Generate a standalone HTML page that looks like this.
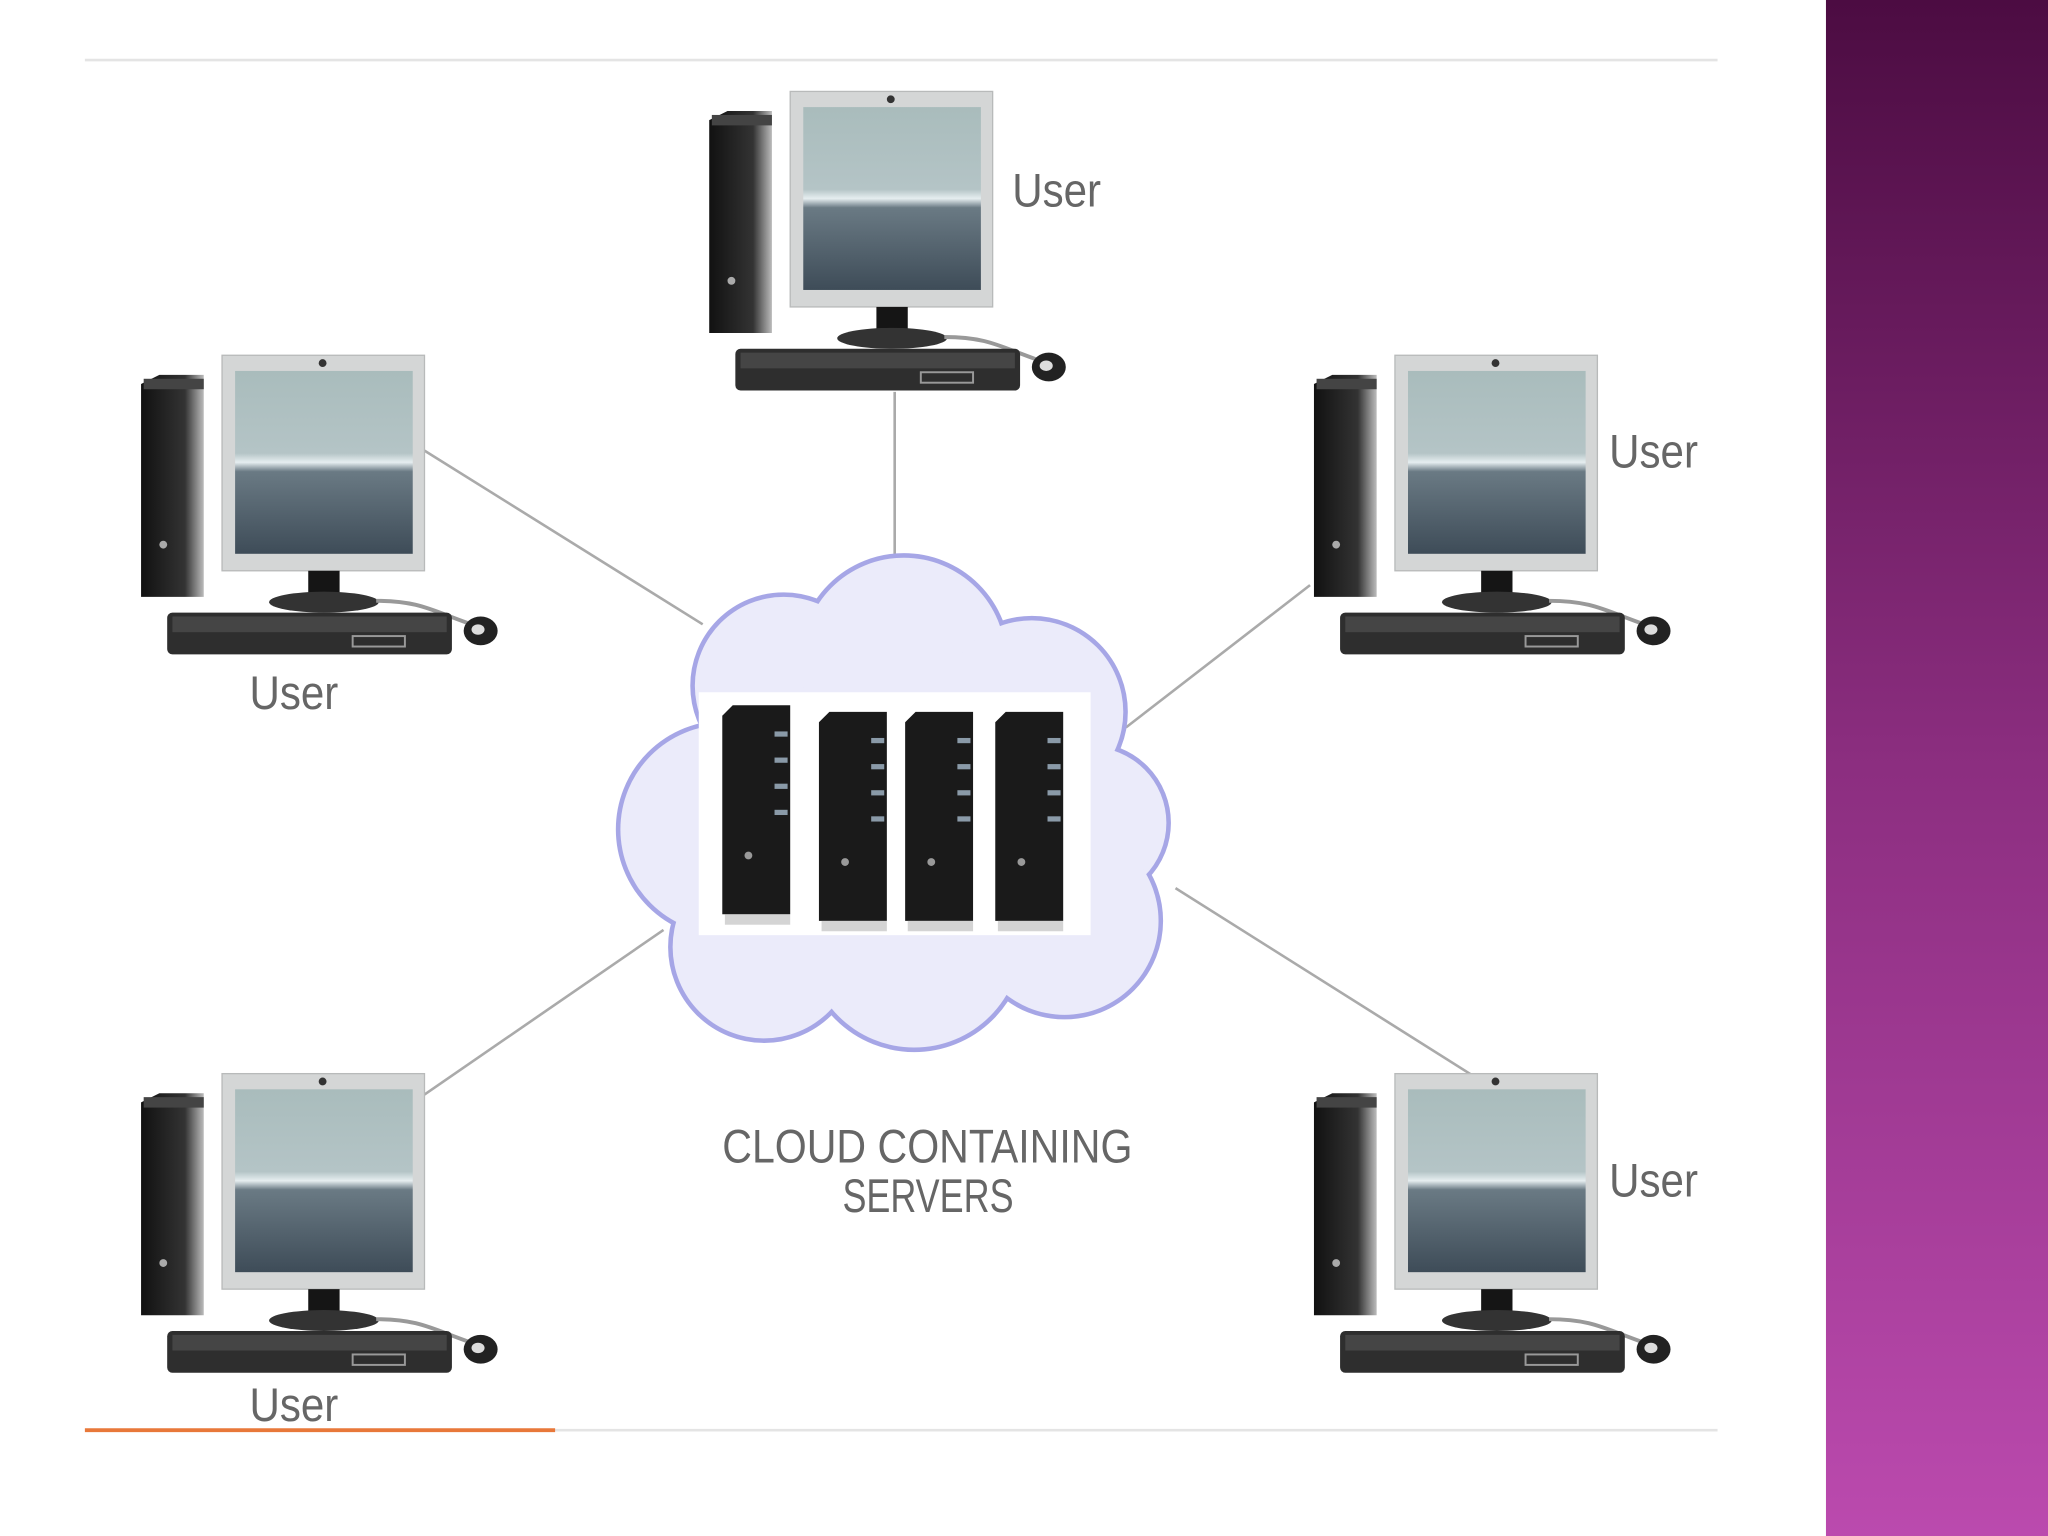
<!DOCTYPE html>
<html><head><meta charset="utf-8"><style>
html,body{margin:0;padding:0;width:2048px;height:1536px;overflow:hidden;background:#fff}
svg{display:block}
</style></head><body>
<svg width="2048" height="1536" viewBox="0 0 1568 1176" preserveAspectRatio="none" xmlns="http://www.w3.org/2000/svg">
<defs>
<linearGradient id="pg" x1="0" y1="0" x2="0" y2="1">
<stop offset="0" stop-color="#4c0c42"/><stop offset="0.5" stop-color="#8c2e80"/><stop offset="1" stop-color="#bb4aae"/></linearGradient>
<linearGradient id="scr" x1="0" y1="0" x2="0" y2="1">
<stop offset="0" stop-color="#a9bcbc"/><stop offset="0.45" stop-color="#b4c4c6"/><stop offset="0.5" stop-color="#e6eef0"/><stop offset="0.55" stop-color="#6a7a84"/><stop offset="1" stop-color="#3e4c58"/></linearGradient>
<linearGradient id="tw" x1="0" y1="0" x2="1" y2="0">
<stop offset="0" stop-color="#111"/><stop offset="0.7" stop-color="#333"/><stop offset="1" stop-color="#bbb"/></linearGradient>
<g id="pc">
<polygon points="-62,22 -48,15 -14,15 -14,185 -62,185" fill="url(#tw)"/>
<rect x="-60" y="18" width="46" height="8" fill="#444"/>
<circle cx="-45" cy="145" r="3" fill="#aaa"/>
<rect x="0" y="0" width="155" height="165" fill="#d4d6d6" stroke="#b8baba"/>
<circle cx="77" cy="6" r="3" fill="#333"/>
<rect x="10" y="12" width="136" height="140" fill="url(#scr)"/>
<rect x="66" y="165" width="24" height="22" fill="#151515"/>
<ellipse cx="78" cy="189" rx="42" ry="8" fill="#333"/>
<path d="M118,188 C150,188 160,195 188,205" stroke="#999" stroke-width="3" fill="none"/>
<rect x="-42" y="197" width="218" height="32" rx="4" fill="#2e2e2e"/>
<rect x="-38" y="200" width="210" height="12" fill="#555" opacity="0.6"/>
<rect x="100" y="215" width="40" height="8" fill="none" stroke="#999" stroke-width="1.5"/>
<ellipse cx="198" cy="211" rx="13" ry="11" fill="#222"/>
<ellipse cx="196" cy="210" rx="5" ry="4" fill="#ddd"/>
</g>
<g id="srv">
<polygon points="0,8 8,0 52,0 52,160 0,160" fill="#1a1a1a"/>
<rect x="40" y="20" width="10" height="4" fill="#8a9aa8"/>
<rect x="40" y="40" width="10" height="4" fill="#8a9aa8"/>
<rect x="40" y="60" width="10" height="4" fill="#8a9aa8"/>
<rect x="40" y="80" width="10" height="4" fill="#8a9aa8"/>
<circle cx="20" cy="115" r="3" fill="#999"/>
<rect x="2" y="160" width="50" height="8" fill="#aaa" opacity="0.5"/>
</g>
</defs>
<rect x="0" y="0" width="1568" height="1176" fill="#fff"/>
<rect x="1398" y="0" width="170" height="1176" fill="url(#pg)"/>
<line x1="65" y1="46" x2="1315" y2="46" stroke="#e4e4e4" stroke-width="2"/>
<line x1="65" y1="1095" x2="1315" y2="1095" stroke="#e4e4e4" stroke-width="2"/>
<line x1="65" y1="1095" x2="425" y2="1095" stroke="#e8783a" stroke-width="3"/>
<g stroke="#aaa" stroke-width="2">
<line x1="685" y1="300" x2="685" y2="428"/>
<line x1="325" y1="345" x2="538" y2="478"/>
<line x1="1003" y1="448" x2="862" y2="557"/>
<line x1="325" y1="838" x2="508" y2="712"/>
<line x1="900" y1="680" x2="1130" y2="825"/>
</g>
<g fill="#ebebfa" stroke="#a6a6e6" stroke-width="7">
<circle cx="600" cy="525" r="68"/><circle cx="692" cy="505" r="78"/><circle cx="790" cy="545" r="70"/>
<circle cx="835" cy="630" r="58"/><circle cx="555" cy="635" r="80"/><circle cx="815" cy="705" r="72"/>
<circle cx="700" cy="720" r="82"/><circle cx="585" cy="725" r="70"/>
</g>
<g fill="#ebebfa">
<circle cx="600" cy="525" r="68"/><circle cx="692" cy="505" r="78"/><circle cx="790" cy="545" r="70"/>
<circle cx="835" cy="630" r="58"/><circle cx="555" cy="635" r="80"/><circle cx="815" cy="705" r="72"/>
<circle cx="700" cy="720" r="82"/><circle cx="585" cy="725" r="70"/><circle cx="690" cy="620" r="120"/>
</g>
<rect x="535" y="530" width="300" height="186" fill="#fff"/>
<use href="#srv" x="553" y="540"/>
<use href="#srv" x="627" y="545"/>
<use href="#srv" x="693" y="545"/>
<use href="#srv" x="762" y="545"/>
<use href="#pc" x="605" y="70"/>
<use href="#pc" x="170" y="272"/>
<use href="#pc" x="1068" y="272"/>
<use href="#pc" x="170" y="822"/>
<use href="#pc" x="1068" y="822"/>
<g font-family="Liberation Sans Narrow, Liberation Sans, sans-serif" fill="#666" font-size="36">
<text x="775" y="158" textLength="68" lengthAdjust="spacingAndGlyphs">User</text>
<text x="191" y="543" textLength="68" lengthAdjust="spacingAndGlyphs">User</text>
<text x="1232" y="358" textLength="68" lengthAdjust="spacingAndGlyphs">User</text>
<text x="191" y="1088" textLength="68" lengthAdjust="spacingAndGlyphs">User</text>
<text x="1232" y="916" textLength="68" lengthAdjust="spacingAndGlyphs">User</text>
<text x="553" y="890" textLength="314" lengthAdjust="spacingAndGlyphs">CLOUD CONTAINING</text>
<text x="645" y="928" textLength="131" lengthAdjust="spacingAndGlyphs">SERVERS</text>
</g>
</svg>
</body></html>
